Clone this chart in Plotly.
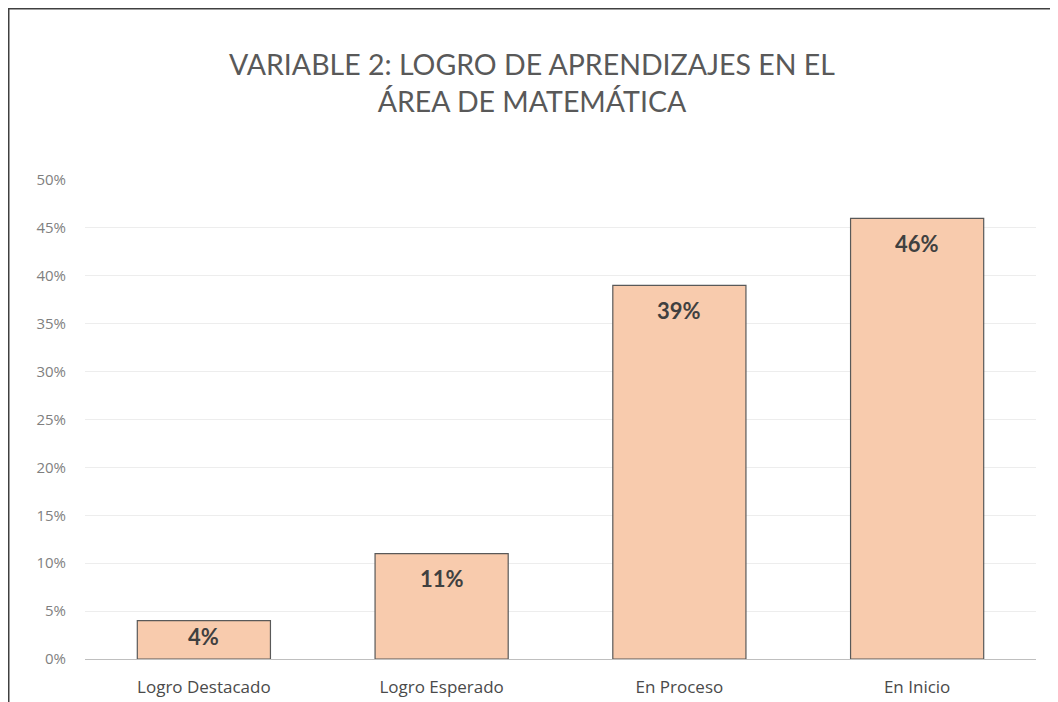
import plotly.graph_objects as go

categories = ["Logro Destacado", "Logro Esperado", "En Proceso", "En Inicio"]
values = [0.04, 0.11, 0.39, 0.46]
labels = ["4%", "11%", "39%", "46%"]
yticks = [0, 0.05, 0.10, 0.15, 0.20, 0.25, 0.30, 0.35, 0.40, 0.45, 0.50]
yticklabels = ["0%", "5%", "10%", "15%", "20%", "25%", "30%", "35%", "40%", "45%", "50%"]

TITLE_FONT = "Lato"
TICK_FONT = "Open Sans"

# page body has an 8px default margin; figure sized/placed to compensate
W, H = 1050, 694
L, R, T, B = 77, 22, 172, 43
PW, PH = W - L - R, H - T - B
YMAX = 0.5

fig = go.Figure()
fig.add_trace(go.Bar(
    x=categories, y=values,
    marker=dict(color="#F8CBAD", line=dict(color="#595959", width=1.2)),
    width=0.56,
    hoverinfo="skip",
))

for c, v, t in zip(categories, values, labels):
    bar_px = v / YMAX * PH
    shift = min(25, bar_px / 2 - 3)
    fig.add_annotation(x=c, y=v, text=t, showarrow=False, yanchor="middle", yshift=-shift,
                       font=dict(family=TITLE_FONT, size=22, color="#404040", weight="bold"))

fig.update_layout(
    width=W, height=H,
    margin=dict(l=L, r=R, t=T, b=B, autoexpand=False),
    paper_bgcolor="white", plot_bgcolor="white",
    showlegend=False,
    title=dict(
        text="VARIABLE 2: LOGRO DE APRENDIZAJES EN EL<br>ÁREA DE MATEMÁTICA",
        x=0.499, xanchor="center", y=1 - 67 / H, yanchor="middle",
        font=dict(family=TITLE_FONT, size=28.5, color="#595959"),
    ),
    font=dict(family=TICK_FONT, color="#595959"),
)
fig.update_yaxes(
    range=[0, YMAX], tickvals=yticks, ticktext=yticklabels, automargin=False,
    showgrid=True, gridcolor="#EDEDED", gridwidth=1,
    zeroline=False, showline=False, ticks="",
    tickfont=dict(family=TICK_FONT, size=15, color="#7F7F7F"), ticklabelstandoff=18,
)
fig.update_xaxes(
    showline=True, linecolor="#BFBFBF", linewidth=1.2, ticks="", automargin=False,
    tickfont=dict(family=TICK_FONT, size=17, color="#4A4A4A"), ticklabelstandoff=12,
)

# outer chart border
fig.add_shape(type="rect", xref="paper", yref="paper",
              x0=(0.75 - L) / PW, x1=(1044.5 - L) / PW,
              y0=(PH - (H + 30 - T)) / PH, y1=(PH + T - 0.75) / PH,
              line=dict(color="#404040", width=1.5), fillcolor="rgba(0,0,0,0)", layer="below")

fig.write_html("out.html")
